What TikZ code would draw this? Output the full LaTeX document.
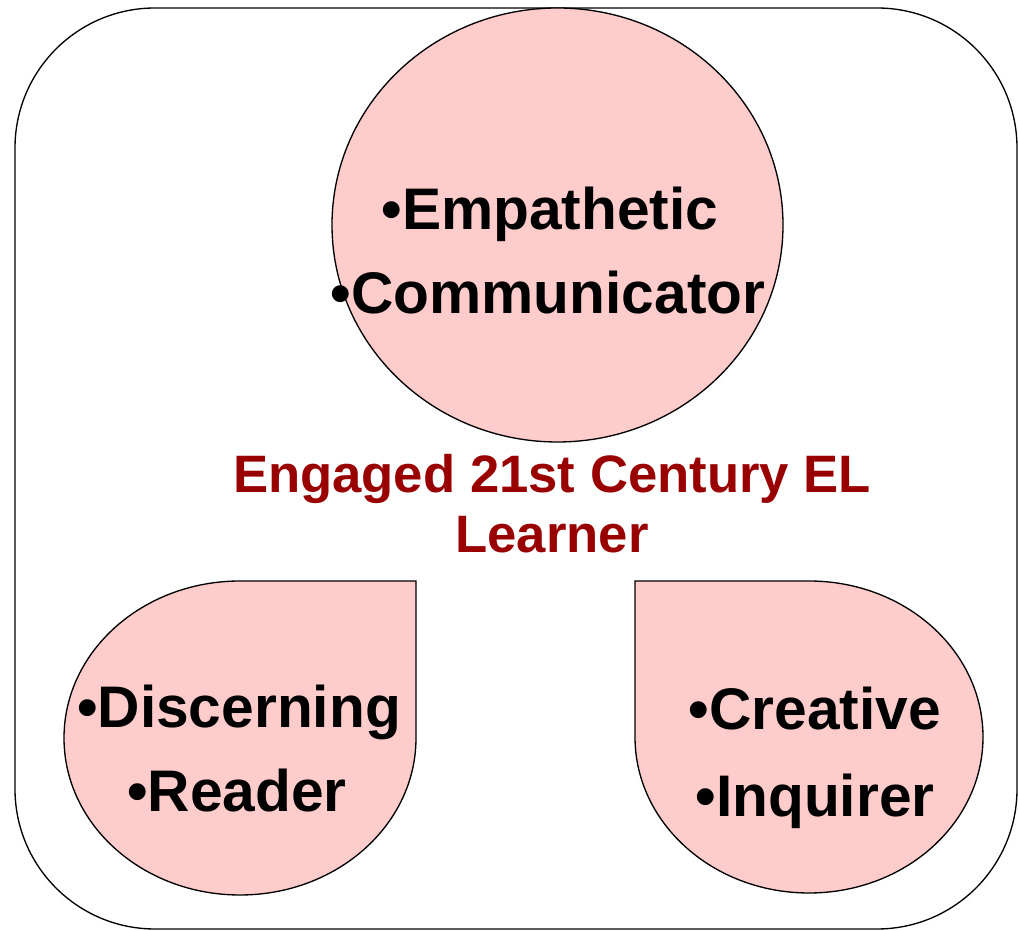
\documentclass[tikz,border=0pt]{standalone}
\usepackage{fontspec}
\setmainfont{Liberation Sans}
\definecolor{pinkfill}{HTML}{FFCCCC}
\definecolor{darkred}{HTML}{990000}
\begin{document}
\begin{tikzpicture}[x=0.75pt,y=0.75pt,
  shapeline/.style={draw=black, line width=1pt},
  petal/.style={shapeline, fill=pinkfill},
  blacktxt/.style={anchor=base, inner sep=0pt, font=\bfseries\fontsize{44pt}{50pt}\selectfont, text=black},
  redtxt/.style={anchor=base, inner sep=0pt, font=\bfseries\fontsize{39.5pt}{45pt}\selectfont, text=darkred}]
\useasboundingbox (0,0) rectangle (1018,931);
% outer frame
\draw[shapeline, rounded corners=105pt] (15,2) rectangle (1017,923);
% top circle
\draw[petal] (557.5,706) ellipse [x radius=169.125pt, y radius=162.75pt];
% bottom-left teardrop
\draw[petal] (416,193) -- (416,350) -- (240,350)
  arc[start angle=90, end angle=360, x radius=132pt, y radius=117.75pt] -- cycle;
% bottom-right teardrop
\draw[petal] (635,194) -- (635,350) -- (809,350)
  arc[start angle=90, end angle=-180, x radius=130.5pt, y radius=117pt] -- cycle;
% texts
\node[blacktxt] (emp) at (550,701) {•Empathetic};
\node[blacktxt] (com) at (548,617) {•Communicator};
\node[redtxt] (eng) at (552,438) {Engaged 21st Century EL};
\node[redtxt] (lea) at (552,378) {Learner};
\node[blacktxt] (dis) at (239,203) {•Discerning};
\node[blacktxt] (rea) at (237,119) {•Reader};
\node[blacktxt] (cre) at (815,201) {•Creative};
\node[blacktxt] (inq) at (815,114) {•Inquirer};
\end{tikzpicture}
\end{document}
